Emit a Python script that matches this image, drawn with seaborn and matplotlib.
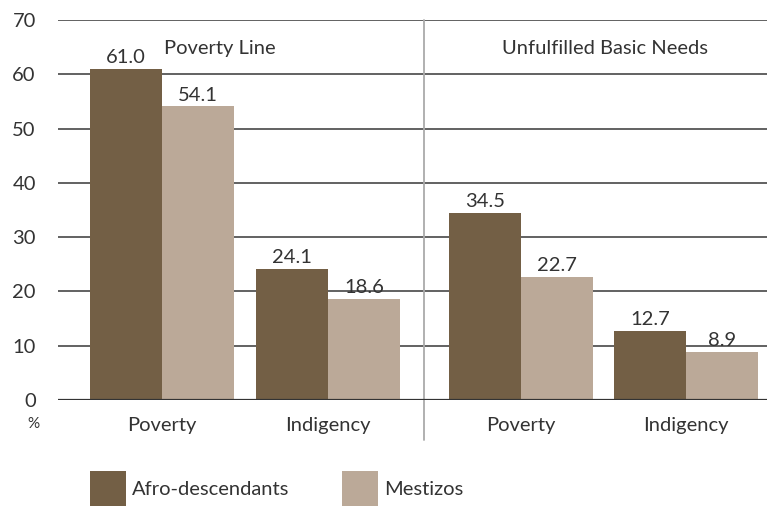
import matplotlib
matplotlib.use("Agg")
import matplotlib.pyplot as plt
from matplotlib.patches import Patch
import seaborn as sns
import pandas as pd

categories = ["Poverty", "Indigency", "Poverty", "Indigency"]
positions = [0.0, 1.0, 2.163, 3.157]
groups = ["Poverty Line", "Unfulfilled Basic Needs"]
series = ["Afro-descendants", "Mestizos"]
afro = [61.0, 24.1, 34.5, 12.7]
mestizos = [54.1, 18.6, 22.7, 8.9]
yticks = [0, 10, 20, 30, 40, 50, 60, 70]
colors = ["#735f45", "#bba998"]

rows = []
for p, a, m in zip(positions, afro, mestizos):
    rows.append({"pos": p, "series": series[0], "value": a})
    rows.append({"pos": p, "series": series[1], "value": m})
df = pd.DataFrame(rows)

sns.set_theme(style="white")
plt.rcParams["font.family"] = ["Lato", "DejaVu Sans"]
plt.rcParams["text.color"] = "#333333"

FS = 14.5
fig = plt.figure(figsize=(7.67, 5.13), dpi=100)
ax = fig.add_axes([58 / 767, 1 - 400 / 513, 1 - 58 / 767, 380 / 513])

sns.barplot(data=df, x="pos", y="value", hue="series", native_scale=True,
            palette=colors, width=0.87, saturation=1, ax=ax, legend=False,
            errorbar=None, linewidth=0)

ax.set_ylim(0, 70)
ax.set_xlim(-0.627, 3.645)
ax.set_yticks(yticks)
ax.set_yticklabels([str(t) for t in yticks])
ax.set_xticks(positions)
ax.set_xticklabels(categories)
ax.tick_params(axis="y", length=0, pad=16, labelsize=FS, labelcolor="#333333")
ax.tick_params(axis="x", length=0, pad=12, labelsize=FS, labelcolor="#333333")
ax.set_xlabel("")
ax.set_ylabel("")
for s in ax.spines.values():
    s.set_visible(False)
for t in yticks[1:]:
    ax.axhline(t, color="#555555", lw=1.3, zorder=0)
ax.axhline(0, color="#333333", lw=1.6, zorder=3)

ax.axvline(1.578, ymin=-0.105, ymax=1.0, color="#aaaaaa", lw=1.3, clip_on=False)

ax.text(0.35, 64.8, groups[0], ha="center", va="center", fontsize=FS, color="#333333")
ax.text(2.67, 64.8, groups[1], ha="center", va="center", fontsize=FS, color="#333333")

for c in ax.containers:
    ax.bar_label(c, fmt="%.1f", padding=2, fontsize=FS, color="#333333")

fig.text(33 / 767, 1 - 424 / 513, "%", ha="center", va="center", fontsize=11, color="#333333")

handles = [Patch(facecolor=colors[0], edgecolor="none"), Patch(facecolor=colors[1], edgecolor="none")]
fig.legend(handles, series, loc="lower left", bbox_to_anchor=(72 / 767, -0.022), ncol=2,
           frameon=False, handlelength=1.8, handleheight=2.3, handletextpad=0.3,
           columnspacing=2.6, fontsize=FS)

fig.savefig("out.png", dpi=100)
